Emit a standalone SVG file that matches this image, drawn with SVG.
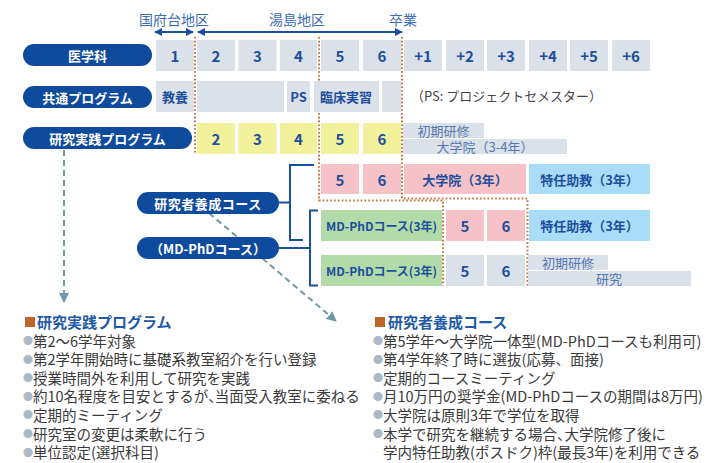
<svg xmlns="http://www.w3.org/2000/svg" width="712" height="463" viewBox="0 0 712 463">
<style>
text{font-family:"Noto Sans CJK JP","Noto Sans",sans-serif}
.g{fill:#dbe1e8}.y{fill:#f2f19c}.p{fill:#f7c1c8}.b{fill:#a9dcf7}.gr{fill:#b3dba9}
.pill{fill:#0e4b9d}
.pt{fill:#fff;font-size:13px;font-weight:bold;text-anchor:middle;dominant-baseline:central}
.n{fill:#1e4f9c;font-size:15px;font-weight:bold;text-anchor:middle;dominant-baseline:central}
.t{fill:#1e4f9c;font-size:13px;font-weight:bold;text-anchor:middle;dominant-baseline:central}
.s{fill:#1e4f9c;font-size:12px;font-weight:bold;text-anchor:middle;dominant-baseline:central}
.l{fill:#5478b2;font-size:13px;text-anchor:middle;dominant-baseline:central}
.reg{fill:#3d6db2;font-size:14px;text-anchor:middle}
.dot{fill:none;stroke:#c4703a;stroke-width:2;stroke-dasharray:1.6 2.2}
.br{fill:none;stroke:#1a4fa0;stroke-width:2}
.ar{fill:none;stroke:#1a4fa0;stroke-width:2}
.dash{fill:none;stroke:#6e98a6;stroke-width:2;stroke-dasharray:6 4}
.h{fill:#1f5aa8;font-size:15px;font-weight:bold}
.sq{fill:#c0652a}
.bt{fill:#3a3a3a;font-size:14.5px}
.bu{fill:#a9b9c8;font-size:10px}
</style>
<defs>
<marker id="ah" viewBox="0 0 8 8" refX="7" refY="4" markerWidth="4" markerHeight="4" orient="auto-start-reverse"><path d="M0,0 L8,4 L0,8 z" fill="#1a4fa0"/></marker>
<marker id="dh" viewBox="0 0 10 10" refX="9" refY="5" markerWidth="5" markerHeight="5" orient="auto"><path d="M0,0 L10,5 L0,10 z" fill="#6e98a6"/></marker>
</defs>

<g id="region-labels">
<text class="reg" x="174" y="25">国府台地区</text>
<text class="reg" x="297" y="25">湯島地区</text>
<text class="reg" x="403" y="25">卒業</text>
</g>

<g id="connectors">
<line class="ar" x1="155" y1="32" x2="193" y2="32" marker-start="url(#ah)" marker-end="url(#ah)"/>
<line class="ar" x1="198" y1="32" x2="402" y2="32" marker-start="url(#ah)" marker-end="url(#ah)"/>
<path class="dot" d="M195,37 V154"/>
<path class="dot" d="M319,37 V200.5 H443 V286"/>
<path class="dot" d="M402,37 V198.5 H527.5 V286"/>
<path class="br" d="M279,202.5 H290 M314,165 H290 V240 H303"/>
<path class="br" d="M279,248 H310 M318,210.5 H310 V285.5 H318"/>
<path class="dash" d="M64,150 V302" marker-end="url(#dh)"/>
<path class="dash" d="M209,213 L336,321" marker-end="url(#dh)"/>
</g>

<g id="node-igakuka"><rect class="pill" x="23" y="44" width="129" height="22" rx="11"/><text class="pt" x="87.5" y="55">医学科</text></g>
<g id="node-kyotsu"><rect class="pill" x="23" y="86" width="129" height="22" rx="11"/><text class="pt" x="87.5" y="97">共通プログラム</text></g>
<g id="node-kenkyu-jissen"><rect class="pill" x="23" y="127" width="169" height="22" rx="11"/><text class="pt" x="107.5" y="138">研究実践プログラム</text></g>
<g id="node-kenkyusha"><rect class="pill" x="137" y="192" width="142" height="22" rx="11"/><text class="pt" x="208" y="203" letter-spacing="0.5">研究者養成コース</text></g>
<g id="node-mdphd"><rect class="pill" x="137" y="237" width="142" height="22" rx="11"/><text class="pt" x="208" y="248">（MD-PhDコース）</text></g>

<g id="row1">
<g id="y1"><rect class="g" x="156" y="40" width="38" height="31"/><text class="n" x="175" y="55.5">1</text></g>
<g id="y2"><rect class="g" x="197" y="40" width="38" height="31"/><text class="n" x="216" y="55.5">2</text></g>
<g id="y3"><rect class="g" x="238.5" y="40" width="38" height="31"/><text class="n" x="257.5" y="55.5">3</text></g>
<g id="y4"><rect class="g" x="280" y="40" width="37" height="31"/><text class="n" x="298.5" y="55.5">4</text></g>
<g id="y5"><rect class="g" x="321" y="40" width="38" height="31"/><text class="n" x="340" y="55.5">5</text></g>
<g id="y6"><rect class="g" x="363" y="40" width="38" height="31"/><text class="n" x="382" y="55.5">6</text></g>
<g id="p1"><rect class="g" x="404" y="40" width="38" height="31"/><text class="n" x="423" y="55.5">+1</text></g>
<g id="p2"><rect class="g" x="446" y="40" width="38" height="31"/><text class="n" x="465" y="55.5">+2</text></g>
<g id="p3"><rect class="g" x="487" y="40" width="38" height="31"/><text class="n" x="506" y="55.5">+3</text></g>
<g id="p4"><rect class="g" x="529" y="40" width="38" height="31"/><text class="n" x="548" y="55.5">+4</text></g>
<g id="p5"><rect class="g" x="570" y="40" width="38" height="31"/><text class="n" x="589" y="55.5">+5</text></g>
<g id="p6"><rect class="g" x="612" y="40" width="38" height="31"/><text class="n" x="631" y="55.5">+6</text></g>
</g>

<g id="row2">
<g id="kyoyo"><rect class="g" x="156" y="81" width="38" height="31"/><text class="t" x="175" y="96.5">教養</text></g>
<g id="blank1"><rect class="g" x="197" y="81" width="87" height="31"/></g>
<g id="ps"><rect class="g" x="287" y="81" width="23" height="31"/><text class="t" x="298.5" y="96.5">PS</text></g>
<g id="rinsho"><rect class="g" x="314" y="81" width="65" height="31"/><text class="t" x="346" y="96.5">臨床実習</text></g>
<g id="blank2"><rect class="g" x="382" y="81" width="19" height="31"/></g>
<text x="411" y="101" fill="#444" font-size="13px">（PS: プロジェクトセメスター）</text>
</g>

<g id="row3">
<g id="k2"><rect class="y" x="197" y="123" width="38" height="31"/><text class="n" x="216" y="138.5">2</text></g>
<g id="k3"><rect class="y" x="238.5" y="123" width="38" height="31"/><text class="n" x="257.5" y="138.5">3</text></g>
<g id="k4"><rect class="y" x="280" y="123" width="37" height="31"/><text class="n" x="298.5" y="138.5">4</text></g>
<g id="k5"><rect class="y" x="321" y="123" width="38" height="31"/><text class="n" x="340" y="138.5">5</text></g>
<g id="k6"><rect class="y" x="363" y="123" width="38" height="31"/><text class="n" x="382" y="138.5">6</text></g>
<g id="shoki1"><rect class="g" x="403" y="123" width="81" height="15"/><text class="l" x="443.5" y="130.5">初期研修</text></g>
<g id="daigakuin34"><rect class="g" x="403" y="139" width="164" height="15"/><text class="l" x="485" y="146.5">大学院（3-4年）</text></g>
</g>

<g id="row4">
<g id="r4-5"><rect class="p" x="321" y="164" width="38" height="30"/><text class="n" x="340" y="179">5</text></g>
<g id="r4-6"><rect class="p" x="363" y="164" width="38" height="30"/><text class="n" x="382" y="179">6</text></g>
<g id="r4-dg"><rect class="p" x="404" y="164" width="122" height="30"/><text class="t" x="465" y="179">大学院（3年）</text></g>
<g id="r4-tn"><rect class="b" x="529" y="164" width="121" height="30"/><text class="t" x="589.5" y="179">特任助教（3年）</text></g>
</g>

<g id="row5">
<g id="r5-md"><rect class="gr" x="321" y="210" width="121" height="31"/><text class="s" x="381.5" y="225.5">MD-PhDコース(3年)</text></g>
<g id="r5-5"><rect class="p" x="446" y="210" width="38" height="31"/><text class="n" x="465" y="225.5">5</text></g>
<g id="r5-6"><rect class="p" x="487" y="210" width="38" height="31"/><text class="n" x="506" y="225.5">6</text></g>
<g id="r5-tn"><rect class="b" x="529" y="210" width="121" height="31"/><text class="t" x="589.5" y="225.5">特任助教（3年）</text></g>
</g>

<g id="row6">
<g id="r6-md"><rect class="gr" x="321" y="255" width="121" height="31"/><text class="s" x="381.5" y="270.5">MD-PhDコース(3年)</text></g>
<g id="r6-5"><rect class="g" x="446" y="255" width="38" height="31"/><text class="n" x="465" y="270.5">5</text></g>
<g id="r6-6"><rect class="g" x="487" y="255" width="38" height="31"/><text class="n" x="506" y="270.5">6</text></g>
<g id="r6-shoki"><rect class="g" x="528" y="255" width="80" height="15"/><text class="l" x="568" y="262.5">初期研修</text></g>
<g id="r6-kenkyu"><rect class="g" x="528" y="271" width="163" height="15"/><text class="l" x="609" y="278.5">研究</text></g>
</g>

<g id="left-notes">
<rect class="sq" x="25" y="317" width="10" height="10"/>
<text class="h" x="37" y="328">研究実践プログラム</text>
<text class="bu" x="23" y="345">●</text><text class="bt" x="33" y="346.5">第2～6学年対象</text>
<text class="bu" x="23" y="363.6">●</text><text class="bt" x="33" y="365.1">第2学年開始時に基礎系教室紹介を行い登録</text>
<text class="bu" x="23" y="382.2">●</text><text class="bt" x="33" y="383.7">授業時間外を利用して研究を実践</text>
<text class="bu" x="23" y="400.8">●</text><text class="bt" x="33" y="402.3">約10名程度を目安とするが<tspan letter-spacing="-8">、</tspan>当面受入教室に委ねる</text>
<text class="bu" x="23" y="419.4">●</text><text class="bt" x="33" y="420.9">定期的ミーティング</text>
<text class="bu" x="23" y="438">●</text><text class="bt" x="33" y="439.5">研究室の変更は柔軟に行う</text>
<text class="bu" x="23" y="456.6">●</text><text class="bt" x="33" y="458.1">単位認定(選択科目)</text>
</g>

<g id="right-notes">
<rect class="sq" x="375" y="317" width="10" height="10"/>
<text class="h" x="388" y="328">研究者養成コース</text>
<text class="bu" x="373" y="345">●</text><text class="bt" x="383" y="346.5">第5学年～大学院一体型(MD-PhDコースも利用可)</text>
<text class="bu" x="373" y="363.6">●</text><text class="bt" x="383" y="365.1">第4学年終了時に選抜(応募、面接)</text>
<text class="bu" x="373" y="382.2">●</text><text class="bt" x="383" y="383.7">定期的コースミーティング</text>
<text class="bu" x="373" y="400.8">●</text><text class="bt" x="383" y="402.3">月10万円の奨学金(MD-PhDコースの期間は8万円)</text>
<text class="bu" x="373" y="419.4">●</text><text class="bt" x="383" y="420.9">大学院は原則3年で学位を取得</text>
<text class="bu" x="373" y="438">●</text><text class="bt" x="383" y="439.5">本学で研究を継続する場合<tspan letter-spacing="-7">、</tspan>大学院修了後に</text>
<text class="bt" x="383" y="458.1">学内特任助教(ポスドク)枠(最長3年)を利用できる</text>
</g>
</svg>
